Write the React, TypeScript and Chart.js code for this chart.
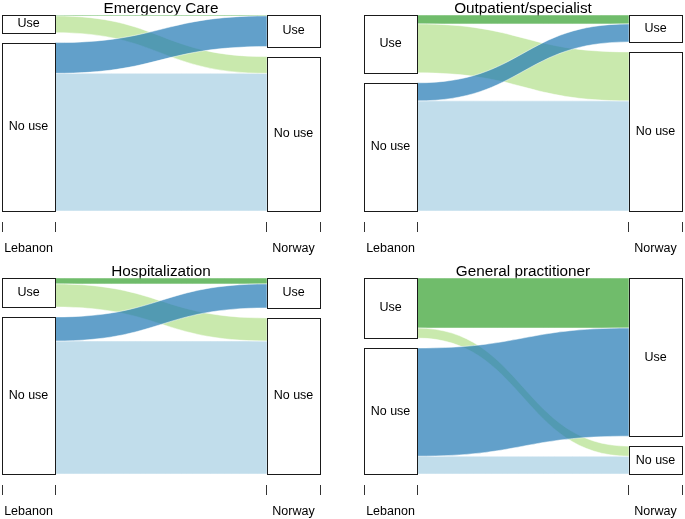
import React, { useEffect, useRef } from 'react';
import { Chart, registerables } from 'chart.js';

Chart.register(...registerables);

// ---- data ----
const axisNames = ['Lebanon', 'Norway'];
const strataNames = ['Use', 'No use'];
const panelTitles = ['Emergency Care', 'Outpatient/specialist', 'Hospitalization', 'General practitioner'];
// flow shares in % : [Use→Use, Use→No use, No use→Use, No use→No use]
const emergencyCare = [0.5, 9.0, 16.5, 74.0];
const outpatientSpecialist = [4.8, 26.3, 9.7, 59.2];
const hospitalization = [3.2, 12.4, 12.9, 71.5];
const generalPractitioner = [26.9, 5.4, 58.1, 9.6];
const panelValues = [emergencyCare, outpatientSpecialist, hospitalization, generalPractitioner];

// ---- style ----
const FONT = '"Liberation Sans", Arial, Helvetica, sans-serif';
const flowColors = [
  'rgba(51,160,44,0.7)',
  'rgba(178,223,138,0.7)',
  'rgba(31,120,180,0.7)',
  'rgba(166,206,227,0.7)',
];
const drawOrder = [3, 0, 1, 2];
const GAP = 0.0535;
const BOX_W = 0.2;

const alluvialPlugin = {
  id: 'alluvial',
  afterDatasetsDraw(chart: any, _args: any, opts: any) {
    const { ctx } = chart;
    const xs = chart.scales.x;
    const ys = chart.scales.y;
    const values: number[] = opts.values;
    const total = values.reduce((a, b) => a + b, 0);
    const f = values.map((v) => v / total);
    const n = strataNames.length;
    const sizes = [0, 1].map((a) =>
      strataNames.map((_, s) => {
        let sum = 0;
        for (let o = 0; o < n; o++) sum += a === 0 ? f[s * n + o] : f[o * n + s];
        return sum;
      })
    );
    const tops = sizes.map((arr) => {
      let cur = 1 + GAP;
      return arr.map((sz) => {
        const t = cur;
        cur -= sz + GAP;
        return t;
      });
    });
    const flowPos: any[] = [];
    const leftCursor = tops[0].slice();
    const rightCursor = tops[1].slice();
    for (let i = 0; i < n; i++) {
      for (let j = 0; j < n; j++) {
        const k = i * n + j;
        flowPos[k] = { l0: leftCursor[i], l1: leftCursor[i] - f[k] };
        leftCursor[i] -= f[k];
      }
    }
    for (let j = 0; j < n; j++) {
      for (let i = 0; i < n; i++) {
        const k = i * n + j;
        flowPos[k].r0 = rightCursor[j];
        flowPos[k].r1 = rightCursor[j] - f[k];
        rightCursor[j] -= f[k];
      }
    }
    const xL = xs.getPixelForValue(1 + BOX_W / 2);
    const xR = xs.getPixelForValue(2 - BOX_W / 2);
    const xM = (xL + xR) / 2;
    ctx.save();
    for (const k of drawOrder) {
      const p = flowPos[k];
      if (f[k] <= 0) continue;
      const a0 = ys.getPixelForValue(p.l0);
      const a1 = ys.getPixelForValue(p.l1);
      const b0 = ys.getPixelForValue(p.r0);
      const b1 = ys.getPixelForValue(p.r1);
      ctx.beginPath();
      ctx.moveTo(xL, a0);
      ctx.bezierCurveTo(xM, a0, xM, b0, xR, b0);
      ctx.lineTo(xR, b1);
      ctx.bezierCurveTo(xM, b1, xM, a1, xL, a1);
      ctx.closePath();
      ctx.fillStyle = flowColors[k];
      ctx.fill();
      ctx.strokeStyle = 'rgba(255,255,255,0.7)';
      ctx.lineWidth = 0.7;
      ctx.stroke();
    }
    ctx.font = `12.5px ${FONT}`;
    ctx.textAlign = 'center';
    ctx.textBaseline = 'middle';
    for (let a = 0; a < 2; a++) {
      const c = a + 1;
      const x0 = xs.getPixelForValue(c - BOX_W / 2);
      const x1 = xs.getPixelForValue(c + BOX_W / 2);
      for (let s = 0; s < n; s++) {
        const yt = ys.getPixelForValue(tops[a][s]);
        const yb = ys.getPixelForValue(tops[a][s] - sizes[a][s]);
        ctx.fillStyle = '#ffffff';
        ctx.fillRect(x0, yt, x1 - x0, yb - yt);
        ctx.strokeStyle = '#1a1a1a';
        ctx.lineWidth = 1;
        ctx.strokeRect(Math.round(x0) + 0.5, Math.round(yt) + 0.5, Math.round(x1 - x0), Math.round(yb - yt));
        ctx.fillStyle = '#000000';
        ctx.fillText(strataNames[s], (x0 + x1) / 2, (yt + yb) / 2);
      }
    }
    ctx.restore();
  },
};

const tickValues = [0.9, 1, 1.1, 1.9, 2, 2.1];

function Panel({ index, left, top }: { index: number; left: number; top: number }) {
  const ref = useRef<HTMLCanvasElement | null>(null);
  useEffect(() => {
    if (!ref.current) return;
    const chart = new Chart(ref.current, {
      type: 'scatter',
      data: { datasets: [] },
      plugins: [alluvialPlugin],
      options: {
        responsive: false,
        animation: false,
        layout: { padding: { left: 2, right: 4, top: 0, bottom: 0 } },
        plugins: {
          legend: { display: false },
          tooltip: { enabled: false },
          title: {
            display: true,
            text: panelTitles[index],
            color: '#000',
            font: { family: FONT, size: 15.3, weight: 'normal' },
            padding: { top: 0, bottom: 0 },
          },
          alluvial: { values: panelValues[index] },
        } as any,
        scales: {
          x: {
            type: 'linear',
            min: 0.9,
            max: 2.1,
            afterBuildTicks: (scale: any) => {
              scale.ticks = tickValues.map((value) => ({ value }));
            },
            afterFit: (scale: any) => {
              scale.paddingLeft = 0;
              scale.paddingRight = 0;
            },
            border: { display: false },
            grid: {
              drawOnChartArea: false,
              drawTicks: true,
              tickLength: 10,
              lineWidth: 1,
              color: (c: any) =>
                c.tick && (c.tick.value === 1 || c.tick.value === 2) ? 'rgba(0,0,0,0)' : '#333333',
            },
            ticks: {
              autoSkip: false,
              maxRotation: 0,
              padding: 9,
              color: '#000',
              font: { family: FONT, size: 12.5 },
              callback: (v: any) => (v === 1 ? axisNames[0] : v === 2 ? axisNames[1] : ''),
            },
          },
          y: { type: 'linear', display: false, min: -0.0588, max: 1.0353 },
        },
      } as any,
    });
    return () => chart.destroy();
  }, [index]);
  return (
    <canvas
      ref={ref}
      width={324}
      height={265}
      style={{ position: 'absolute', left, top, width: 324, height: 265 }}
    />
  );
}

export default function App() {
  const pos = [
    { left: 0, top: 0 },
    { left: 362, top: 0 },
    { left: 0, top: 263 },
    { left: 362, top: 263 },
  ];
  return (
    <div
      style={{
        position: 'fixed',
        left: 0,
        top: 0,
        width: 685,
        height: 519,
        background: '#ffffff',
        overflow: 'hidden',
      }}
    >
      {pos.map((p, i) => (
        <Panel key={i} index={i} left={p.left} top={p.top} />
      ))}
    </div>
  );
}
